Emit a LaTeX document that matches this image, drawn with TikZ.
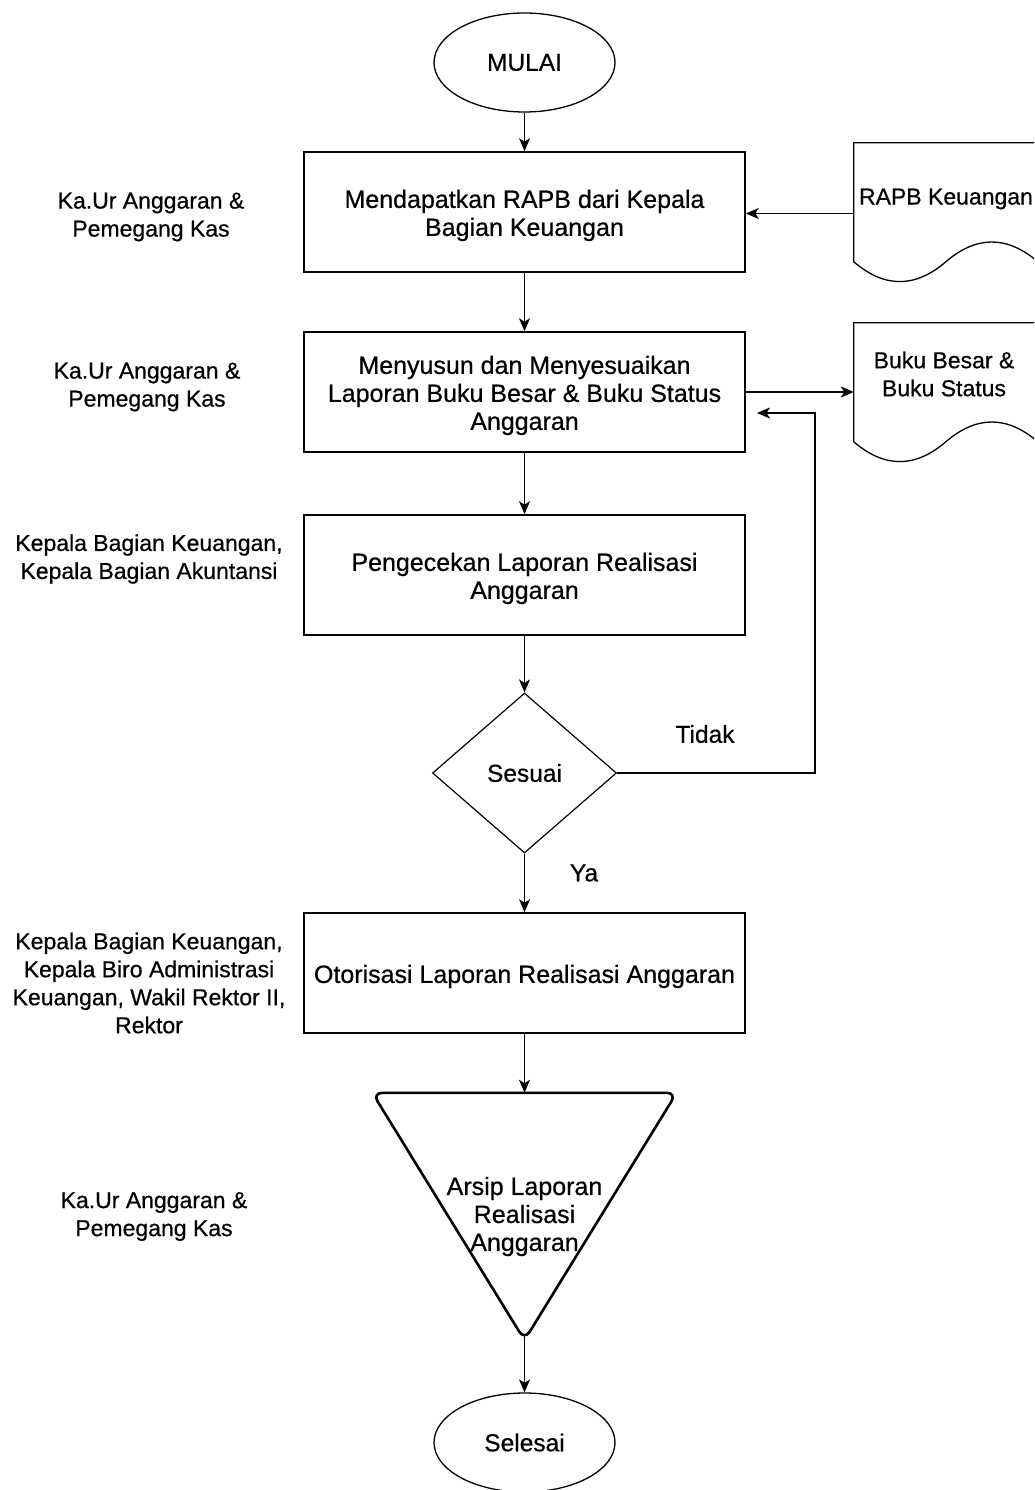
\documentclass[tikz,border=0pt]{standalone}
\usepackage{fontspec}
\setmainfont{Liberation Sans}[BoldFont={Liberation Sans}, BoldFeatures={FakeBold=0.6}]
\usetikzlibrary{arrows.meta,shapes.geometric,calc}

% raises the top of the first text line so that the block sits a little lower
\newcommand\firstline{\rule{0pt}{25pt}}

\tikzset{
  boxfont/.style={font=\fontsize{25}{28}\selectfont\bfseries},
  shapefont/.style={font=\fontsize{24.5}{28}\selectfont\bfseries},
  notefont/.style={font=\fontsize{23}{28}\selectfont\bfseries},
  proc/.style={draw, line width=1.6pt, minimum width=441pt, minimum height=120pt,
    inner sep=0pt, align=center, boxfont},
  term/.style={draw, ellipse, line width=1.3pt, minimum width=181pt,
    minimum height=99pt, inner sep=0pt, shapefont},
  decision/.style={draw, diamond, line width=1.2pt, minimum width=184pt,
    minimum height=160pt, inner sep=0pt, shapefont},
  archarea/.style={minimum width=304pt, minimum height=247pt, inner sep=0pt,
    align=center, boxfont},
  docarea/.style={minimum width=184pt, minimum height=141pt, inner sep=0pt},
  role/.style={align=center, inner sep=0pt, notefont},
  arr/.style={-{Stealth[length=13pt,width=11pt,inset=3.5pt]}, line width=1.5pt},
  % document symbol: flat top, wavy bottom edge
  docshape/.pic={
    \draw[line width=1.3pt] (0,0) -- (184,0) -- (184,119)
      .. controls (153.33,92.6) and (122.67,92.6) .. (92,119)
      .. controls (61.33,145.4) and (30.67,145.4) .. (0,119) -- cycle;
  }
}

\begin{document}
\begin{tikzpicture}[x=1pt,y=-1pt]
\path[fill=white] (0,0) rectangle (1034,1490);
\clip (0,0) rectangle (1034,1490);

% main flow
\node[term] (start) at (524.5,62.5) {MULAI};
\node[proc] (b1) at (524.5,212) {\firstline Mendapatkan RAPB dari Kepala\\Bagian Keuangan};
\node[proc] (b2) at (524.5,392) {\firstline Menyusun dan Menyesuaikan\\Laporan Buku Besar \& Buku Status\\Anggaran};
\node[proc] (b3) at (524.5,575) {\firstline Pengecekan Laporan Realisasi\\Anggaran};
\node[decision] (chk) at (524.5,773) {Sesuai};
\node[proc] (b4) at (524.5,973) {\firstline Otorisasi Laporan Realisasi Anggaran};
\node[archarea] (arch) at (524.5,1216.5) {Arsip Laporan\\Realisasi\\Anggaran};
\draw[line width=2.6pt, rounded corners=10pt]
  (arch.north west) -- (arch.north east) -- (arch.south) -- cycle;
\node[term] (stop) at (524.5,1442.5) {Selesai};

% documents
\node[docarea] (doc1) at (946,213.5) {};
\pic at (doc1.north west) {docshape};
\node[role] (doc1t) at (946,199) {RAPB Keuangan};
\node[docarea] (doc2) at (946,393.5) {};
\pic at (doc2.north west) {docshape};
\node[role] (doc2t) at (944,374) {Buku Besar \&\\Buku Status};

% connectors
\coordinate (loopcorner) at (815,413);
\coordinate (loopend) at (757,413);
\draw[arr] (start) -- (b1);
\draw[arr] (doc1.west) -- (doc1.west -| b1.east);
\draw[arr] (b1) -- (b2);
\draw[arr] (b2.east) -- (b2.east -| doc2.west);
\draw[arr] (b2) -- (b3);
\draw[arr] (b3) -- (chk);
\draw[arr] (chk) -- (b4);
\draw[arr] (chk.east) -| (loopcorner) -- (loopend);
\draw[arr] (b4) -- (arch.north);
\draw[arr] ([yshift=6pt]arch.south) -- (stop);

\node[shapefont] (tidak) at (705,734) {Tidak};
\node[shapefont] (ya) at (584,873) {Ya};

% responsible parties
\node[role] (r1) at (151,217) {Ka.Ur Anggaran \&\\Pemegang Kas};
\node[role] (r2) at (147,387) {Ka.Ur Anggaran \&\\Pemegang Kas};
\node[role] (r3) at (149,559) {Kepala Bagian Keuangan,\\Kepala Bagian Akuntansi};
\node[role] (r4) at (149,983) {Kepala Bagian Keuangan,\\Kepala Biro Administrasi\\Keuangan, Wakil Rektor II,\\Rektor};
\node[role] (r5) at (154,1216.5) {Ka.Ur Anggaran \&\\Pemegang Kas};
\end{tikzpicture}
\end{document}
